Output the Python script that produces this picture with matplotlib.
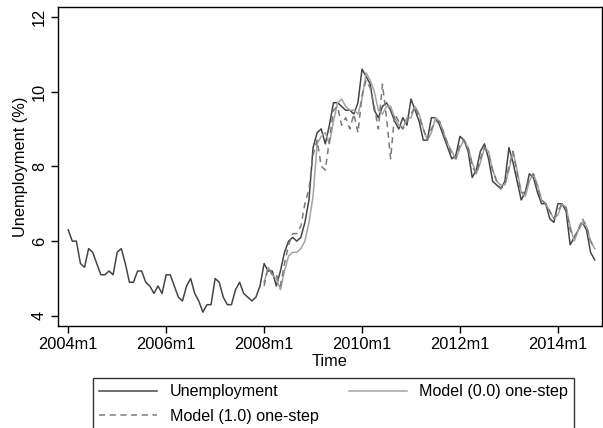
import matplotlib.pyplot as plt
import numpy as np

plt.rcParams['font.family'] = ['Liberation Sans', 'DejaVu Sans']

# Monthly unemployment (%), 2004m1 .. 2014m10
unemployment = [
    6.3, 6.0, 6.0, 5.4, 5.3, 5.8, 5.7, 5.4, 5.1, 5.1, 5.2, 5.1,
    5.7, 5.8, 5.4, 4.9, 4.9, 5.2, 5.2, 4.9, 4.8, 4.6, 4.8, 4.6,
    5.1, 5.1, 4.8, 4.5, 4.4, 4.8, 5.0, 4.6, 4.4, 4.1, 4.3, 4.3,
    5.0, 4.9, 4.5, 4.3, 4.3, 4.7, 4.9, 4.6, 4.5, 4.4, 4.5, 4.8,
    5.4, 5.2, 5.2, 4.8, 5.2, 5.7, 6.0, 6.1, 6.0, 6.1, 6.5, 7.1,
    8.5, 8.9, 9.0, 8.6, 9.1, 9.7, 9.7, 9.6, 9.5, 9.5, 9.4, 9.7,
    10.6, 10.4, 10.2, 9.5, 9.3, 9.6, 9.7, 9.5, 9.2, 9.0, 9.3, 9.1,
    9.8, 9.5, 9.2, 8.7, 8.7, 9.3, 9.3, 9.1, 8.8, 8.5, 8.2, 8.3,
    8.8, 8.7, 8.4, 7.7, 7.9, 8.4, 8.6, 8.2, 7.6, 7.5, 7.4, 7.6,
    8.5, 8.1, 7.6, 7.1, 7.3, 7.8, 7.7, 7.3, 7.0, 7.0, 6.6, 6.5,
    7.0, 7.0, 6.8, 5.9, 6.1, 6.3, 6.5, 6.3, 5.7, 5.5,
]

# one-step predictions, 2008m1 .. 2014m10
model_00 = [
    4.9, 5.3, 5.1, 5.0, 4.7, 5.2, 5.6, 5.7, 5.7, 5.8, 6.0, 6.5,
    7.2, 8.6, 8.8, 8.9, 8.6, 9.2, 9.7, 9.8, 9.6, 9.5, 9.5, 9.4,
    9.8, 10.5, 10.3, 10.0, 9.5, 9.4, 9.6, 9.6, 9.3, 9.1, 9.0, 9.3,
    9.3, 9.6, 9.4, 9.0, 8.7, 8.9, 9.3, 9.2, 8.9, 8.6, 8.4, 8.2,
    8.5, 8.7, 8.5, 8.1, 7.8, 8.1, 8.5, 8.4, 7.9, 7.6, 7.5, 7.5,
    7.9, 8.4, 7.9, 7.3, 7.2, 7.6, 7.8, 7.5, 7.1, 7.0, 6.8, 6.6,
    6.7, 7.0, 6.9, 6.4, 6.0, 6.3, 6.5, 6.4, 6.0, 5.8,
]
model_10 = [
    4.8, 5.3, 5.1, 5.1, 4.8, 5.4, 5.9, 6.2, 6.2, 6.4, 7.0, 7.4,
    8.3, 8.7, 8.0, 7.9, 8.7, 9.5, 9.6, 9.1, 9.3, 9.0, 9.4, 8.9,
    9.9, 10.3, 10.1, 9.6, 9.0, 10.2, 9.3, 8.2, 9.4, 9.2, 9.0, 9.2,
    9.4, 9.6, 9.3, 9.0, 8.7, 9.0, 9.2, 9.2, 8.9, 8.6, 8.3, 8.2,
    8.6, 8.7, 8.5, 8.0, 7.8, 8.2, 8.5, 8.3, 7.9, 7.6, 7.4, 7.5,
    8.0, 8.4, 7.8, 7.3, 7.3, 7.7, 7.8, 7.4, 7.1, 7.0, 6.8, 6.6,
    6.8, 7.0, 6.9, 6.3, 6.1, 6.3, 6.6, 6.4, 6.0, 5.8,
]
model_start = 48  # 2008m1

tick_labels = ['2004m1', '2006m1', '2008m1', '2010m1', '2012m1', '2014m1']
y_ticks = [4, 6, 8, 10, 12]

t = np.arange(len(unemployment))
t_model = np.arange(model_start, model_start + len(model_00))

fig = plt.figure(figsize=(6.03, 4.28), dpi=100)
ax = fig.add_axes([58 / 603, 1 - 326 / 428, 544 / 603, 319 / 428])

l1, = ax.plot(t, unemployment, color='#454545', lw=1.1)
l2, = ax.plot(t_model, model_00, color='#a3a3a3', lw=1.1)
l3, = ax.plot(t_model, model_10, color='#7a7a7a', lw=1.1, dashes=(4, 3))

ax.set_xlim(-2.5, 130.8)
ax.set_ylim(3.73, 12.26)
ax.set_xticks(np.arange(0, 24 * len(tick_labels), 24))
ax.set_xticklabels(tick_labels)
ax.set_yticks(y_ticks)
ax.set_yticklabels([str(v) for v in y_ticks], rotation=90, va='center')
ax.tick_params(direction='out', length=5, width=1, labelsize=11.8, pad=3)

for s in ax.spines.values():
    s.set_linewidth(1)
    s.set_color('black')

ax.set_xlabel('Time', fontsize=11.8, labelpad=1.5)
ax.set_ylabel('Unemployment (%)', fontsize=11.8, labelpad=3)

# column-major fill: (l1, l3) first column, l2 second column
leg = fig.legend([l1, l3, l2],
                 ['Unemployment', 'Model (1.0) one-step', 'Model (0.0) one-step'],
                 loc='upper left', bbox_to_anchor=(93 / 603, 1 - 378 / 428),
                 ncol=2, fontsize=11.6, frameon=True, fancybox=False,
                 handlelength=3.6, handletextpad=0.75, columnspacing=1.9,
                 labelspacing=0.6, borderpad=0.4, borderaxespad=0)
leg.get_frame().set_edgecolor('black')
leg.get_frame().set_linewidth(1)

fig.savefig('out.png', dpi=100)
